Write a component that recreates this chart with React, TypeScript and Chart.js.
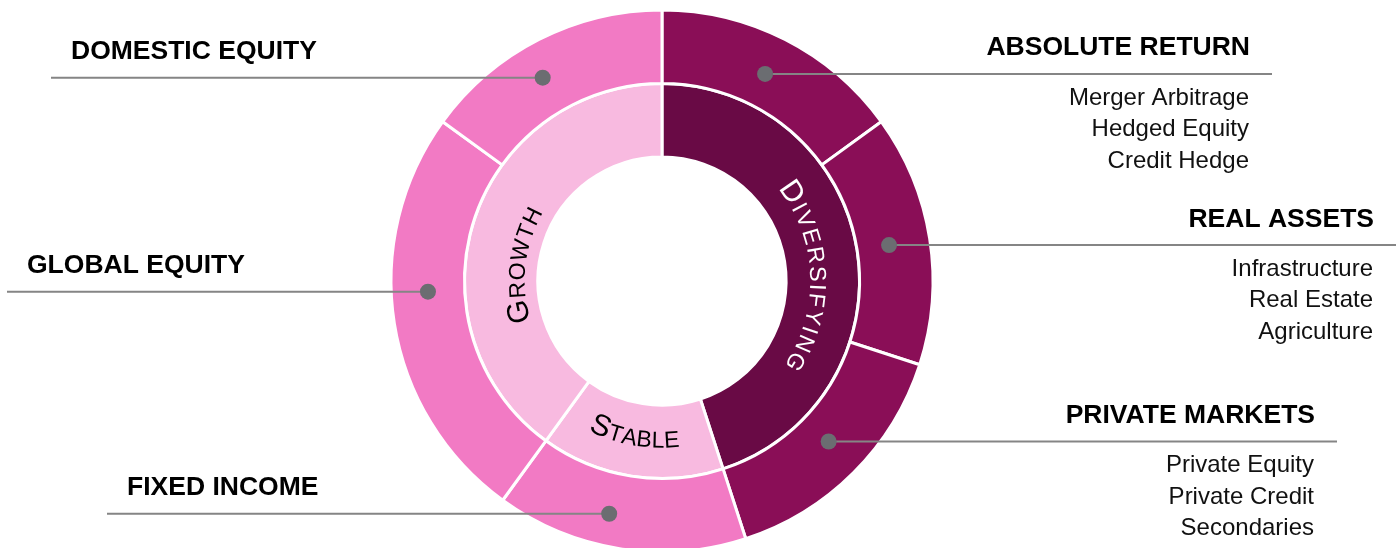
import React, { useEffect, useRef } from "react";
import { Chart, registerables } from "chart.js";

Chart.register(...registerables);

// ---------- DATA ----------
const outerCategories = [
  "ABSOLUTE RETURN",
  "REAL ASSETS",
  "PRIVATE MARKETS",
  "FIXED INCOME",
  "GLOBAL EQUITY",
  "DOMESTIC EQUITY",
];
const outerValues = [15, 15, 15, 15, 25, 15];
const outerGroup = ["DIVERSIFYING", "DIVERSIFYING", "DIVERSIFYING", "STABLE", "GROWTH", "GROWTH"];

const innerCategories = ["DIVERSIFYING", "STABLE", "GROWTH"];
const innerValues = [45, 15, 40];

const subAbsoluteReturn = ["Merger Arbitrage", "Hedged Equity", "Credit Hedge"];
const subRealAssets = ["Infrastructure", "Real Estate", "Agriculture"];
const subPrivateMarkets = ["Private Equity", "Private Credit", "Secondaries"];
const subItems: string[][] = [subAbsoluteReturn, subRealAssets, subPrivateMarkets, [], [], []];

// ---------- STYLE / LAYOUT ----------
const groupOuterColor: Record<string, string> = {
  DIVERSIFYING: "#8A0E57",
  STABLE: "#F27AC4",
  GROWTH: "#F27AC4",
};
const innerColors = ["#690A45", "#F8BAE0", "#F8BAE0"];
const innerTextColors = ["#FFFFFF", "#000000", "#000000"];

const labelSide = ["right", "right", "right", "left", "left", "left"];
const lineEndX = [1272, 1396, 1337, 107, 7, 51];
const dotAngleFrac = [0.49, 0.5, 0.48, 0.57, 0.571, 0.437];
const dotRadiusFrac = [0.46, 0.44, 0.46, 0.56, 0.5, 0.52];

const innerTextAngleFrac = [0.543, 0.52, 0.42];
const innerTextRadiusFrac = [0.33, 0.58, 0.18];
const innerTextClockwise = [true, false, true];
const innerTextSpacing = [2, 0.3, 0.5];

const LABEL_FONT = '"Liberation Sans", Arial, sans-serif';
const ARC_FONT = '"Liberation Sans", Arial, sans-serif';

function drawArcText(
  ctx: CanvasRenderingContext2D,
  cx: number,
  cy: number,
  text: string,
  r: number,
  center: number,
  clockwise: boolean,
  bigSize: number,
  smallSize: number,
  spacing: number,
  color: string
) {
  ctx.save();
  ctx.fillStyle = color;
  ctx.textAlign = "center";
  ctx.textBaseline = "alphabetic";
  const chars = text.split("");
  const fonts = chars.map((_, k) => `${k === 0 ? bigSize : smallSize}px ${ARC_FONT}`);
  const widths = chars.map((c, k) => {
    ctx.font = fonts[k];
    return ctx.measureText(c).width;
  });
  const total = widths.reduce((s, w) => s + w, 0) + spacing * (chars.length - 1);
  const dir = clockwise ? 1 : -1;
  let acc = -total / 2;
  chars.forEach((c, k) => {
    const mid = acc + widths[k] / 2;
    const ang = center + (dir * mid) / r;
    ctx.save();
    ctx.translate(cx + r * Math.cos(ang), cy + r * Math.sin(ang));
    ctx.rotate(ang + (dir * Math.PI) / 2);
    ctx.font = fonts[k];
    ctx.fillText(c, 0, 0);
    ctx.restore();
    acc += widths[k] + spacing;
  });
  ctx.restore();
}

const annotationPlugin = {
  id: "annotations",
  afterDatasetsDraw(chart: any) {
    const ctx: CanvasRenderingContext2D = chart.ctx;
    const outerMeta = chart.getDatasetMeta(0);
    const innerMeta = chart.getDatasetMeta(1);

    innerMeta.data.forEach((arc: any, i: number) => {
      const p = arc.getProps(["x", "y", "startAngle", "endAngle", "innerRadius", "outerRadius"], true);
      const a = p.startAngle + innerTextAngleFrac[i] * (p.endAngle - p.startAngle);
      const r = p.innerRadius + innerTextRadiusFrac[i] * (p.outerRadius - p.innerRadius);
      drawArcText(ctx, p.x, p.y, innerCategories[i], r, a, innerTextClockwise[i], 30, 23, innerTextSpacing[i], innerTextColors[i]);
    });

    outerMeta.data.forEach((arc: any, i: number) => {
      const p = arc.getProps(["x", "y", "startAngle", "endAngle", "innerRadius", "outerRadius"], true);
      const a = p.startAngle + dotAngleFrac[i] * (p.endAngle - p.startAngle);
      const r = p.innerRadius + dotRadiusFrac[i] * (p.outerRadius - p.innerRadius);
      const dx = p.x + r * Math.cos(a);
      const dy = p.y + r * Math.sin(a);
      const ex = lineEndX[i];

      ctx.save();
      ctx.strokeStyle = "#858585";
      ctx.lineWidth = 2;
      ctx.beginPath();
      ctx.moveTo(dx, dy);
      ctx.lineTo(ex, dy);
      ctx.stroke();

      ctx.fillStyle = "#6B6D71";
      ctx.beginPath();
      ctx.arc(dx, dy, 8, 0, Math.PI * 2);
      ctx.fill();

      const right = labelSide[i] === "right";
      ctx.fillStyle = "#000000";
      ctx.textBaseline = "alphabetic";
      ctx.textAlign = right ? "right" : "left";
      ctx.font = `bold 26.5px ${LABEL_FONT}`;
      const tx = right ? ex - 22 : ex + 20;
      ctx.fillText(outerCategories[i], tx, dy - 18.5);

      ctx.font = `24px ${LABEL_FONT}`;
      ctx.fillStyle = "#111111";
      subItems[i].forEach((s, k) => {
        ctx.fillText(s, right ? ex - 23 : ex + 20, dy + 30.7 + 31.5 * k);
      });
      ctx.restore();
    });
  },
};

export default function App() {
  const canvasRef = useRef<HTMLCanvasElement | null>(null);

  useEffect(() => {
    if (!canvasRef.current) return;
    const chart = new Chart(canvasRef.current, {
      type: "doughnut",
      data: {
        labels: outerCategories,
        datasets: [
          {
            label: "Asset classes",
            data: outerValues,
            backgroundColor: outerGroup.map((g) => groupOuterColor[g]),
            borderColor: "#FFFFFF",
            borderWidth: 3,
          },
          {
            label: "Roles",
            data: innerValues,
            backgroundColor: innerColors,
            borderColor: "#FFFFFF",
            borderWidth: 3,
          },
        ],
      },
      options: {
        responsive: false,
        animation: false,
        events: [],
        radius: 271,
        cutout: "45.8%",
        layout: { padding: { left: 0, right: 76, top: 14, bottom: 0 } },
        plugins: {
          legend: { display: false },
          tooltip: { enabled: false },
        },
      } as any,
      plugins: [annotationPlugin],
    });
    return () => chart.destroy();
  }, []);

  return (
    <div style={{ position: "absolute", left: 0, top: 0, width: 1400, height: 548, background: "#fff" }}>
      <canvas ref={canvasRef} width={1400} height={548} style={{ width: 1400, height: 548, display: "block" }} />
    </div>
  );
}
